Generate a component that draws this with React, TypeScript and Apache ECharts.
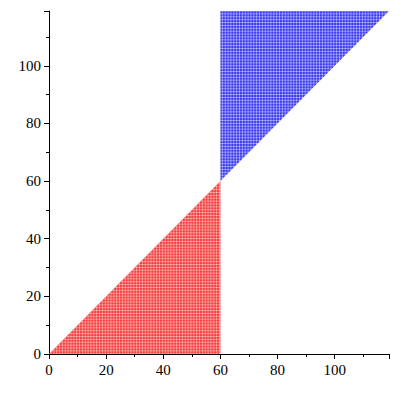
import React, { useEffect, useRef } from "react";
import * as echarts from "echarts";

const redX = [0, 60, 60];
const redY = [0, 0, 60];
const blueX = [60, 60, 119];
const blueY = [60, 119, 119];
const tickValues = [0, 20, 40, 60, 80, 100];

const shapes = [
  { xs: redX, ys: redY, dot: "rgb(245,68,68)", line: "rgb(249,125,125)", cross: "rgb(255,215,215)" },
  { xs: blueX, ys: blueY, dot: "rgb(64,64,238)", line: "rgb(128,128,248)", cross: "rgb(215,215,255)" },
];

function makePattern(dot: string, line: string, cross: string) {
  const c = document.createElement("canvas");
  c.width = 3;
  c.height = 3;
  const ctx = c.getContext("2d")!;
  ctx.fillStyle = line;
  ctx.fillRect(0, 0, 3, 3);
  ctx.fillStyle = cross;
  ctx.fillRect(2, 2, 1, 1);
  ctx.fillStyle = dot;
  ctx.fillRect(0, 0, 2, 2);
  return {
    image: c.toDataURL(),
    imageWidth: 3,
    imageHeight: 3,
    repeat: "repeat",
    scaleX: 2.857 / 3,
    scaleY: 2.88 / 3,
  };
}

export default function App() {
  const ref = useRef<HTMLDivElement>(null);
  useEffect(() => {
    const chart = echarts.init(ref.current!, null, { renderer: "svg" });
    const axisCommon = {
      type: "value" as const,
      min: 0,
      max: 119,
      interval: 20,
      axisLine: { show: true, lineStyle: { color: "#000", width: 1 } },
      axisTick: { show: true, inside: false, length: 5, lineStyle: { color: "#000" } },
      minorTick: { show: true, splitNumber: 2, length: 3, lineStyle: { color: "#000" } },
      splitLine: { show: false },
      axisLabel: {
        color: "#000",
        fontFamily: "Liberation Serif, Times New Roman, serif",
        fontSize: 15,
        margin: 8,
        showMaxLabel: false,
        formatter: (v: number) => (tickValues.includes(v) ? String(v) : ""),
      },
    };
    chart.setOption({
      animation: false,
      grid: { left: 49, right: 11, top: 11, bottom: 46, containLabel: false },
      xAxis: { ...axisCommon },
      yAxis: { ...axisCommon },
      series: shapes.map((s) => {
        const pattern = makePattern(s.dot, s.line, s.cross);
        return {
          type: "custom",
          data: [[s.xs[0], s.ys[0]]],
          clip: false,
          renderItem: (params: any, api: any) => {
            const pts = s.xs.map((x, i) => api.coord([x, s.ys[i]]));
            return {
              type: "polygon",
              shape: { points: pts },
              style: { fill: pattern, stroke: null },
            };
          },
        };
      }),
    });
    return () => chart.dispose();
  }, []);
  return <div ref={ref} style={{ width: 400, height: 400, position: "absolute", left: 0, top: 0 }} />;
}
